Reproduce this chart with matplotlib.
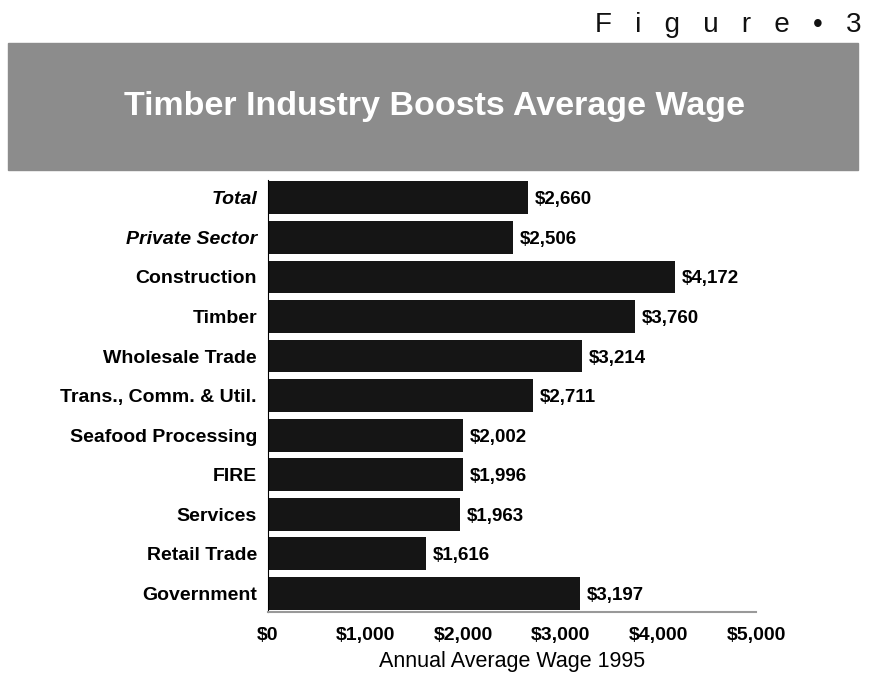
import numpy as np
import matplotlib.pyplot as plt
from matplotlib.patches import Rectangle

categories = ['Total', 'Private Sector', 'Construction', 'Timber', 'Wholesale Trade',
              'Trans., Comm. & Util.', 'Seafood Processing', 'FIRE', 'Services',
              'Retail Trade', 'Government']
wages = [2660, 2506, 4172, 3760, 3214, 2711, 2002, 1996, 1963, 1616, 3197]
xticks = [0, 1000, 2000, 3000, 4000, 5000]
xticklabels = ['$0', '$1,000', '$2,000', '$3,000', '$4,000', '$5,000']

plt.rcParams['font.family'] = ['Liberation Sans', 'DejaVu Sans']

fig = plt.figure(figsize=(8.74, 6.77), dpi=100)

# grey title banner
fig.patches.append(Rectangle((8 / 874, 1 - 170 / 677), 850 / 874, 127 / 677,
                             transform=fig.transFigure, color='#8c8c8c', zorder=0))
fig.text(0.497, 1 - 107 / 677, 'Timber Industry Boosts Average Wage', color='white',
         fontsize=24.5, fontweight='bold', ha='center', va='center')
fig.text(0.986, 1 - 25 / 677, '   '.join('Figure\u20223'), fontsize=20, ha='right',
         va='center', color='#111111')

ax = fig.add_axes([268 / 874, 1 - 612 / 677, 488 / 874, 432 / 677])
y = np.arange(len(categories))
ax.barh(y, wages, height=0.83, color='#151515')
for yi, w in zip(y, wages):
    ax.text(w + 70, yi + 0.05, '${:,}'.format(w), va='center', ha='left',
            fontsize=13.5, fontweight='bold')

ax.set_ylim(10.47, -0.45)
ax.set_xlim(0, 5000)
ax.set_yticks(y)
ax.set_yticklabels(categories, fontsize=14, fontweight='bold')
for lbl in ax.get_yticklabels()[:2]:
    lbl.set_fontstyle('italic')
ax.set_xticks(xticks)
ax.set_xticklabels(xticklabels, fontsize=14, fontweight='bold')
ax.tick_params(length=0, axis='y', pad=8)
ax.tick_params(length=0, axis='x', pad=11)
ax.set_xlabel('Annual Average Wage 1995', fontsize=15.5, labelpad=5)

for s in ['top', 'right']:
    ax.spines[s].set_visible(False)
ax.spines['left'].set_linewidth(0.8)
ax.spines['bottom'].set_color('#999999')
ax.spines['bottom'].set_linewidth(1.5)

fig.savefig('out.png', dpi=100)
